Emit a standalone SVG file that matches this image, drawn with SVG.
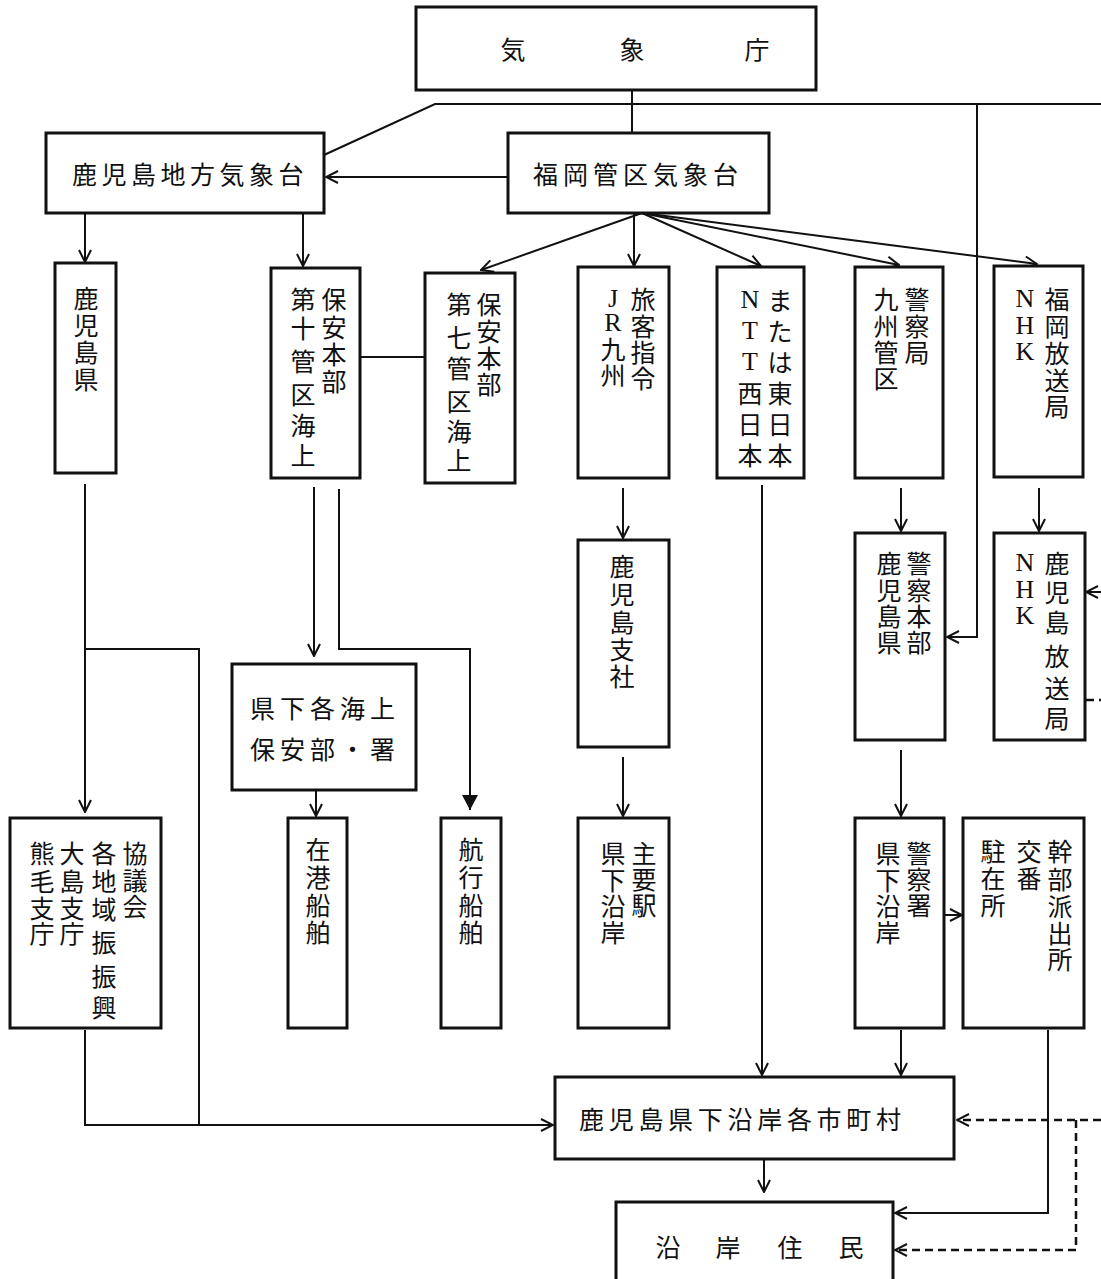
<svg xmlns="http://www.w3.org/2000/svg" width="1101" height="1279" viewBox="0 0 1101 1279">
<style>
.box{fill:#fff;stroke:#111;stroke-width:3}
.ln{fill:none;stroke:#111;stroke-width:2}
.dash{fill:none;stroke:#111;stroke-width:2.5;stroke-dasharray:8 5}
text{font-family:"Noto Sans CJK JP","Noto Sans CJK SC",sans-serif;font-size:25px;fill:#111}
.v{text-anchor:middle;dominant-baseline:central}
.h{dominant-baseline:central}
.lat{font-family:"Liberation Serif",serif;font-size:26px}
</style>
<defs>
<marker id="ar" markerUnits="userSpaceOnUse" markerWidth="14" markerHeight="14" viewBox="0 0 14 14" refX="13" refY="7" orient="auto">
<path d="M1,1 L13,7 L1,13" fill="none" stroke="#111" stroke-width="2"/>
</marker>
<marker id="arf" markerUnits="userSpaceOnUse" markerWidth="16" markerHeight="16" viewBox="0 0 16 16" refX="15" refY="8" orient="auto">
<path d="M0,0 L15,8 L0,16 z" fill="#111"/>
</marker>
</defs>
<rect width="1101" height="1279" fill="#fff"/>

<g id="connectors">
<path class="ln" d="M632,90 V133"/>
<path class="ln" d="M1101,104 H435 L324,155"/>
<path class="ln" d="M508,177 H326" marker-end="url(#ar)"/>
<path class="ln" d="M977,104 V637 H947" marker-end="url(#ar)"/>
<path class="ln" d="M85,213 V262" marker-end="url(#ar)"/>
<path class="ln" d="M303,213 V266" marker-end="url(#ar)"/>
<path class="ln" d="M360,357 H425"/>
<path class="ln" d="M642,213 L481,270" marker-end="url(#ar)"/>
<path class="ln" d="M634,213 V266" marker-end="url(#ar)"/>
<path class="ln" d="M642,213 L761,266" marker-end="url(#ar)"/>
<path class="ln" d="M642,213 L899,265" marker-end="url(#ar)"/>
<path class="ln" d="M642,213 L1037,264" marker-end="url(#ar)"/>
<path class="ln" d="M85,484 V812" marker-end="url(#ar)"/>
<path class="ln" d="M85,649 H199 V1125"/>
<path class="ln" d="M85,1030 V1125 H553" marker-end="url(#ar)"/>
<path class="ln" d="M314,487 V656" marker-end="url(#ar)"/>
<path class="ln" d="M339,489 V649 H470 V810" marker-end="url(#arf)"/>
<path class="ln" d="M316,790 V816" marker-end="url(#ar)"/>
<path class="ln" d="M623,488 V538" marker-end="url(#ar)"/>
<path class="ln" d="M623,757 V816" marker-end="url(#ar)"/>
<path class="ln" d="M762,485 V1075" marker-end="url(#ar)"/>
<path class="ln" d="M901,488 V531" marker-end="url(#ar)"/>
<path class="ln" d="M901,750 V816" marker-end="url(#ar)"/>
<path class="ln" d="M944,915 H962" marker-end="url(#ar)"/>
<path class="ln" d="M901,1030 V1075" marker-end="url(#ar)"/>
<path class="ln" d="M1048,1030 V1213 H895" marker-end="url(#ar)"/>
<path class="ln" d="M1039,488 V531" marker-end="url(#ar)"/>
<path class="ln" d="M1101,592 H1086" marker-end="url(#ar)"/>
<path class="dash" d="M1086,700 H1101"/>
<path class="ln" d="M764,1160 V1192" marker-end="url(#ar)"/>
<path class="dash" d="M1101,1120 H957" marker-end="url(#ar)"/>
<path class="dash" d="M1076,1120 V1250 H895" marker-end="url(#ar)"/>
</g>

<g id="kishocho">
<rect class="box" x="416" y="7" width="400" height="83"/>
<text class="v"><tspan x="513" y="48">気</tspan><tspan x="632" y="48">象</tspan><tspan x="757" y="48">庁</tspan></text>
</g>

<g id="kagoshima-chiho">
<rect class="box" x="46" y="133" width="278" height="80"/>
<text class="h" x="72" y="173" letter-spacing="4.5">鹿児島地方気象台</text>
</g>

<g id="fukuoka-kanku">
<rect class="box" x="508" y="133" width="261" height="80"/>
<text class="h" x="533" y="173" letter-spacing="5">福岡管区気象台</text>
</g>

<g id="kagoshima-ken">
<rect class="box" x="55" y="263" width="61" height="210"/>
<text class="v"><tspan x="86" y="297">鹿</tspan><tspan x="86" y="324">児</tspan><tspan x="86" y="351">島</tspan><tspan x="86" y="378">県</tspan></text>
</g>

<g id="dai10">
<rect class="box" x="271" y="268" width="89" height="210"/>
<text class="v"><tspan x="334" y="298">保</tspan><tspan x="334" y="326">安</tspan><tspan x="334" y="353">本</tspan><tspan x="334" y="380">部</tspan></text>
<text class="v"><tspan x="303" y="298">第</tspan><tspan x="303" y="327">十</tspan><tspan x="303" y="360">管</tspan><tspan x="303" y="393">区</tspan><tspan x="303" y="424">海</tspan><tspan x="303" y="454">上</tspan></text>
</g>

<g id="dai7">
<rect class="box" x="425" y="273" width="90" height="210"/>
<text class="v"><tspan x="489" y="303">保</tspan><tspan x="489" y="330">安</tspan><tspan x="489" y="357">本</tspan><tspan x="489" y="383">部</tspan></text>
<text class="v"><tspan x="459" y="303">第</tspan><tspan x="459" y="336">七</tspan><tspan x="459" y="367">管</tspan><tspan x="459" y="400">区</tspan><tspan x="459" y="430">海</tspan><tspan x="459" y="459">上</tspan></text>
</g>

<g id="jr">
<rect class="box" x="578" y="267" width="91" height="211"/>
<text class="v"><tspan x="643" y="298">旅</tspan><tspan x="643" y="325">客</tspan><tspan x="643" y="351">指</tspan><tspan x="643" y="377">令</tspan></text>
<text class="v"><tspan x="613" y="298" class="lat">J</tspan><tspan x="613" y="322" class="lat">R</tspan><tspan x="613" y="348">九</tspan><tspan x="613" y="374">州</tspan></text>
</g>

<g id="ntt">
<rect class="box" x="717" y="267" width="87" height="211"/>
<text class="v"><tspan x="780" y="299">ま</tspan><tspan x="780" y="330">た</tspan><tspan x="780" y="361">は</tspan><tspan x="780" y="392">東</tspan><tspan x="780" y="423">日</tspan><tspan x="780" y="454">本</tspan></text>
<text class="v"><tspan x="750" y="299" class="lat">N</tspan><tspan x="750" y="330" class="lat">T</tspan><tspan x="750" y="361" class="lat">T</tspan><tspan x="750" y="392">西</tspan><tspan x="750" y="423">日</tspan><tspan x="750" y="454">本</tspan></text>
</g>

<g id="keisatsukyoku">
<rect class="box" x="855" y="267" width="88" height="211"/>
<text class="v"><tspan x="917" y="298">警</tspan><tspan x="917" y="325">察</tspan><tspan x="917" y="351">局</tspan></text>
<text class="v"><tspan x="886" y="298">九</tspan><tspan x="886" y="325">州</tspan><tspan x="886" y="351">管</tspan><tspan x="886" y="377">区</tspan></text>
</g>

<g id="nhk-fukuoka">
<rect class="box" x="994" y="266" width="89" height="211"/>
<text class="v"><tspan x="1057" y="298">福</tspan><tspan x="1057" y="325">岡</tspan><tspan x="1057" y="352">放</tspan><tspan x="1057" y="379">送</tspan><tspan x="1057" y="405">局</tspan></text>
<text class="v"><tspan x="1025" y="298" class="lat">N</tspan><tspan x="1025" y="325" class="lat">H</tspan><tspan x="1025" y="351" class="lat">K</tspan></text>
</g>

<g id="kenka-kaijo">
<rect class="box" x="232" y="664" width="184" height="126"/>
<text class="h" x="250" y="707" letter-spacing="5">県下各海上</text>
<text class="h" x="250" y="748" letter-spacing="5">保安部・署</text>
</g>

<g id="jr-kagoshima">
<rect class="box" x="578" y="540" width="91" height="207"/>
<text class="v"><tspan x="622" y="565">鹿</tspan><tspan x="622" y="593">児</tspan><tspan x="622" y="621">島</tspan><tspan x="622" y="648">支</tspan><tspan x="622" y="675">社</tspan></text>
</g>

<g id="kenkei">
<rect class="box" x="855" y="533" width="90" height="207"/>
<text class="v"><tspan x="919" y="562">警</tspan><tspan x="919" y="589">察</tspan><tspan x="919" y="615">本</tspan><tspan x="919" y="641">部</tspan></text>
<text class="v"><tspan x="889" y="562">鹿</tspan><tspan x="889" y="589">児</tspan><tspan x="889" y="615">島</tspan><tspan x="889" y="641">県</tspan></text>
</g>

<g id="nhk-kagoshima">
<rect class="box" x="994" y="533" width="91" height="207"/>
<text class="v"><tspan x="1057" y="562">鹿</tspan><tspan x="1057" y="591">児</tspan><tspan x="1057" y="621">島</tspan><tspan x="1057" y="655">放</tspan><tspan x="1057" y="687">送</tspan><tspan x="1057" y="717">局</tspan></text>
<text class="v"><tspan x="1025" y="562" class="lat">N</tspan><tspan x="1025" y="589" class="lat">H</tspan><tspan x="1025" y="615" class="lat">K</tspan></text>
</g>

<g id="chiiki">
<rect class="box" x="10" y="818" width="151" height="210"/>
<text class="v"><tspan x="135" y="852">協</tspan><tspan x="135" y="879">議</tspan><tspan x="135" y="905">会</tspan></text>
<text class="v"><tspan x="104" y="852">各</tspan><tspan x="104" y="880">地</tspan><tspan x="104" y="908">域</tspan><tspan x="104" y="941">振</tspan><tspan x="104" y="975">振</tspan><tspan x="104" y="1006">興</tspan></text>
<text class="v"><tspan x="72" y="852">大</tspan><tspan x="72" y="880">島</tspan><tspan x="72" y="907">支</tspan><tspan x="72" y="932">庁</tspan></text>
<text class="v"><tspan x="42" y="852">熊</tspan><tspan x="42" y="880">毛</tspan><tspan x="42" y="907">支</tspan><tspan x="42" y="932">庁</tspan></text>
</g>

<g id="zaiko">
<rect class="box" x="288" y="818" width="59" height="210"/>
<text class="v"><tspan x="318" y="848">在</tspan><tspan x="318" y="876">港</tspan><tspan x="318" y="904">船</tspan><tspan x="318" y="931">舶</tspan></text>
</g>

<g id="koko">
<rect class="box" x="441" y="818" width="60" height="210"/>
<text class="v"><tspan x="471" y="848">航</tspan><tspan x="471" y="876">行</tspan><tspan x="471" y="904">船</tspan><tspan x="471" y="931">舶</tspan></text>
</g>

<g id="shuyoeki">
<rect class="box" x="578" y="818" width="91" height="210"/>
<text class="v"><tspan x="644" y="852">主</tspan><tspan x="644" y="878">要</tspan><tspan x="644" y="904">駅</tspan></text>
<text class="v"><tspan x="613" y="852">県</tspan><tspan x="613" y="879">下</tspan><tspan x="613" y="905">沿</tspan><tspan x="613" y="931">岸</tspan></text>
</g>

<g id="keisatsusho">
<rect class="box" x="855" y="818" width="89" height="210"/>
<text class="v"><tspan x="919" y="852">警</tspan><tspan x="919" y="878">察</tspan><tspan x="919" y="904">署</tspan></text>
<text class="v"><tspan x="888" y="852">県</tspan><tspan x="888" y="879">下</tspan><tspan x="888" y="905">沿</tspan><tspan x="888" y="931">岸</tspan></text>
</g>

<g id="koban">
<rect class="box" x="963" y="818" width="121" height="210"/>
<text class="v"><tspan x="1060" y="850">幹</tspan><tspan x="1060" y="878">部</tspan><tspan x="1060" y="905">派</tspan><tspan x="1060" y="932">出</tspan><tspan x="1060" y="958">所</tspan></text>
<text class="v"><tspan x="1029" y="850">交</tspan><tspan x="1029" y="877">番</tspan></text>
<text class="v"><tspan x="993" y="850">駐</tspan><tspan x="993" y="877">在</tspan><tspan x="993" y="904">所</tspan></text>
</g>

<g id="shichoson">
<rect class="box" x="555" y="1077" width="399" height="82"/>
<text class="h" x="579" y="1118" letter-spacing="4.7">鹿児島県下沿岸各市町村</text>
</g>

<g id="jumin">
<rect class="box" x="616" y="1202" width="277" height="90"/>
<text class="v"><tspan x="668" y="1246">沿</tspan><tspan x="728" y="1246">岸</tspan><tspan x="790" y="1246">住</tspan><tspan x="851" y="1246">民</tspan></text>
</g>
</svg>
